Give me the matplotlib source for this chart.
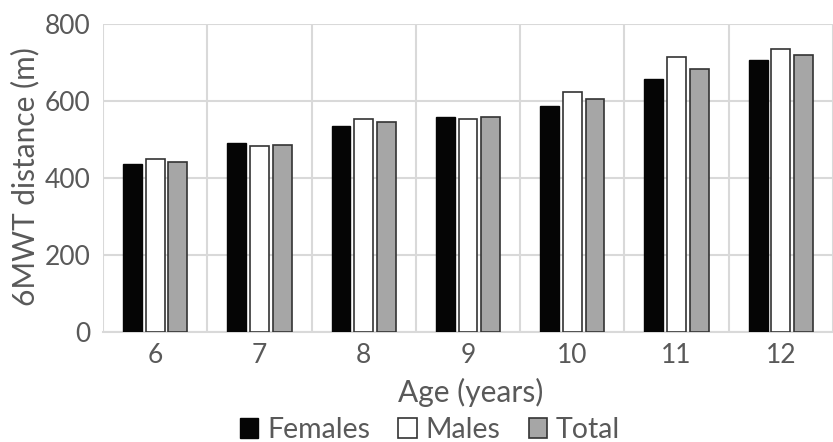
import matplotlib
matplotlib.use("Agg")
import matplotlib.pyplot as plt
import numpy as np

ages = ["6", "7", "8", "9", "10", "11", "12"]
females = [436, 491, 536, 558, 586, 656, 706]
males = [450, 483, 554, 553, 623, 713, 736]
total = [442, 487, 545, 558, 605, 682, 720]
yticks = [0, 200, 400, 600, 800]

plt.rcParams['font.family'] = ['Lato', 'DejaVu Sans']
txt = '#595959'
grid = '#d9d9d9'

fig = plt.figure(figsize=(8.33, 4.42), dpi=100)
ax = fig.add_axes([103/833, 110/442, 1 - 103/833, (332-24)/442])

x = np.arange(len(ages))
w = 0.18
off = 0.218
ax.bar(x - off, females, w, color='#050505', edgecolor='#050505', linewidth=1.0, label='Females', zorder=3)
ax.bar(x, males, w, color='white', edgecolor='#333333', linewidth=1.2, label='Males', zorder=3)
ax.bar(x + off, total, w, color='#a6a6a6', edgecolor='#333333', linewidth=1.2, label='Total', zorder=3)

ax.set_xlim(-0.5, 6.5 - 8/105.5)
ax.set_ylim(0, 800)
ax.set_yticks(yticks)
ax.set_yticklabels([str(v) for v in yticks])
ax.set_xticks(x)
ax.set_xticklabels(ages)
ax.set_xticks(np.arange(-0.5, 7, 1), minor=True)
ax.grid(True, axis='y', color=grid, linewidth=1.5, zorder=0)
ax.grid(True, axis='x', which='minor', color=grid, linewidth=1.5, zorder=0)
ax.grid(False, axis='x', which='major')
for s in ['top', 'right', 'left']:
    ax.spines[s].set_visible(False)
ax.spines['bottom'].set_color(grid)
ax.spines['bottom'].set_linewidth(1.5)
ax.tick_params(axis='both', which='both', length=0, labelsize=19, colors=txt)
ax.tick_params(axis='y', pad=9)
ax.tick_params(axis='x', pad=8)

ax.set_ylabel('6MWT distance (m)', fontsize=21.5, color=txt, va='center')
ax.yaxis.set_label_coords(-0.107, 0.506)
ax.set_xlabel('Age (years)', fontsize=21.5, color=txt, va='center')
ax.xaxis.set_label_coords(0.504, -0.195)

leg = fig.legend(loc='center', bbox_to_anchor=(430/833, 1 - 430/442), ncol=3, frameon=False,
                 fontsize=20.5, handlelength=0.65, handleheight=0.65, handletextpad=0.3,
                 columnspacing=1.0, labelcolor=txt)

fig.savefig('out.png', dpi=100)
